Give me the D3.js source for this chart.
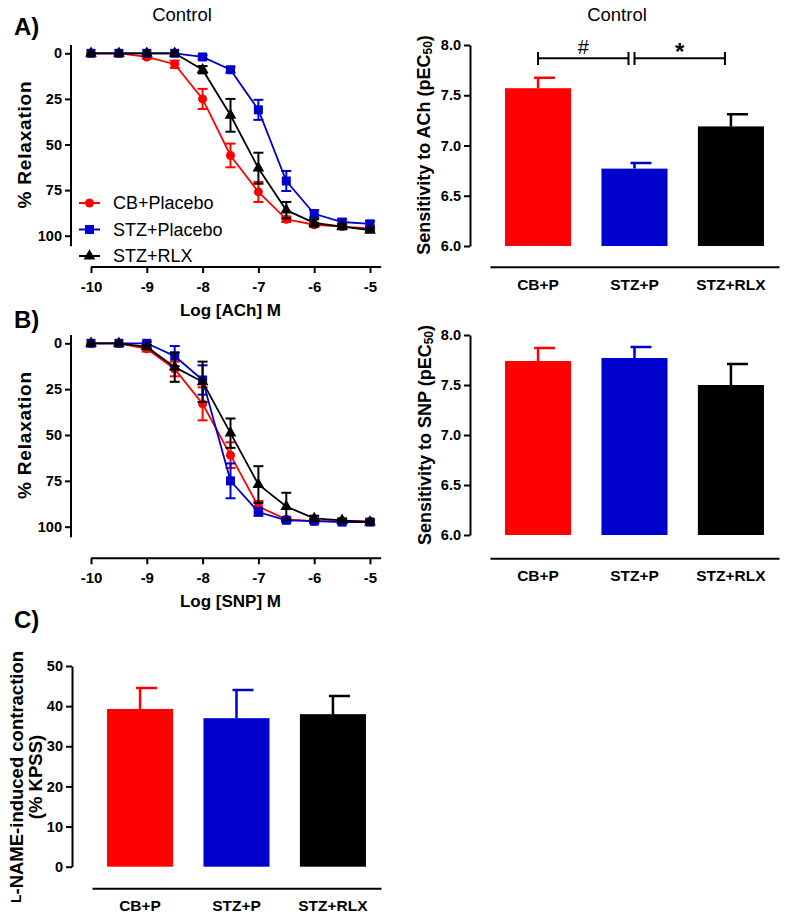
<!DOCTYPE html>
<html>
<head>
<meta charset="utf-8">
<script src="https://cdnjs.cloudflare.com/ajax/libs/d3/7.8.5/d3.min.js"></script>
<style>
  body { margin: 0; background: #fff; }
  svg { display: block; font-family: 'Liberation Sans', Arial, sans-serif; }
</style>
</head>
<body>
<div id="figure"></div>
<script>
// log molar concentrations
const doses = [-10, -9.5, -9, -8.5, -8, -7.5, -7, -6.5, -6, -5.5, -5]
const doseTicks = [-10, -9, -8, -7, -6, -5]
const relaxTicks = [0, 25, 50, 75, 100]

// A) ACh curves (% relaxation, mean and SEM)
const achCB = [0, 0, 2, 6, 25, 56, 76, 91, 94, 95, 96]
const achCBErr = [0, 0, 1, 2, 5.5, 6.5, 5.5, 1.5, 1, 1, 1]
const achSTZ = [0, 0, 0, 0, 2, 9, 31, 70, 88, 92.5, 93.5]
const achSTZErr = [0, 0, 0, 0, 1, 1.5, 5.5, 5.5, 2, 1.5, 1.5]
const achRLX = [0, 0, 0, 0, 9, 34, 63, 86, 93, 95, 97]
const achRLXErr = [0, 0, 0, 0, 2, 9, 8.5, 4.5, 2, 1.5, 1]

// B) SNP curves
const snpCB = [0, 0, 3, 14, 33, 61, 89, 96, 97, 97, 97]
const snpCBErr = [0, 0, 1.5, 4, 9, 7, 3, 1, 1, 1, 1]
const snpSTZ = [0, 0, 0, 7, 20, 75, 92, 96.5, 97, 97.5, 97.5]
const snpSTZErr = [0, 0, 1, 5.5, 8, 9.5, 2, 1, 1, 1, 1]
const snpRLX = [0, 0, 2, 13, 21, 49, 77, 89, 95.5, 96.5, 97.5]
const snpRLXErr = [0, 0, 1, 8, 11, 8, 10, 7.5, 1.5, 1, 1]

// bar charts
const groups = ['CB+P', 'STZ+P', 'STZ+RLX']
const achPec50 = [7.57, 6.77, 7.19]
const achPec50Sem = [0.105, 0.055, 0.12]
const snpPec50 = [7.74, 7.77, 7.5]
const snpPec50Sem = [0.13, 0.11, 0.21]
const pecTicks = [6, 6.5, 7, 7.5, 8]
const lnameContraction = [39.3, 37, 38]
const lnameSem = [5.2, 7, 4.5]
const lnameTicks = [0, 10, 20, 30, 40, 50]

const seriesNames = ['CB+Placebo', 'STZ+Placebo', 'STZ+RLX']
const colors = ['#ff0000', '#0000cc', '#000000']
const shapes = [d3.symbolCircle, d3.symbolSquare, d3.symbolTriangle]
const shapeSizes = [64, 81, 60]

const svg = d3
  .select('#figure')
  .append('svg')
  .attr('width', 787)
  .attr('height', 917)

const xScale = d3
  .scaleLinear()
  .domain([-10, -5])
  .range([91, 370])

function styleAxis(g, size) {
  g.attr('font-size', null).attr('font-family', null)
  g.selectAll('path, line')
    .attr('stroke', '#000')
    .attr('stroke-width', 2)
  g.selectAll('text')
    .attr('fill', '#000')
    .style('font-size', size + 'px')
    .style('font-weight', 'bold')
}

function marker(g, i, x, y) {
  g.append('path')
    .attr('d', d3.symbol().type(shapes[i]).size(shapeSizes[i]))
    .attr('transform', 'translate(' + x + ',' + y + ')')
    .attr('fill', colors[i])
}

function curvePanel(y0, y100, axisY, xTitle, series) {
  const yScale = d3
    .scaleLinear()
    .domain([0, 100])
    .range([y0, y100])

  // y-axis
  const yAxis = svg
    .append('g')
    .attr('transform', 'translate(71,0)')
    .call(
      d3
        .axisLeft(yScale)
        .tickValues(relaxTicks)
        .tickSize(6)
        .tickPadding(3)
    )
  yAxis.select('.domain').remove()
  yAxis
    .append('line')
    .attr('y1', yScale(-4.5))
    .attr('y2', yScale(105.8))
  styleAxis(yAxis, 14.5)

  // x-axis
  const xAxis = svg
    .append('g')
    .attr('transform', 'translate(0,' + axisY + ')')
    .call(
      d3
        .axisBottom(xScale)
        .tickValues(doseTicks)
        .tickFormat(d => String(d))
        .tickSize(6)
        .tickPadding(8)
    )
  xAxis.select('.domain').remove()
  xAxis
    .append('line')
    .attr('x1', xScale(-10))
    .attr('x2', xScale(-4.8))
  styleAxis(xAxis, 15)

  svg
    .append('text')
    .attr('x', (xScale(-10) + xScale(-5)) / 2)
    .attr('y', axisY + 49)
    .attr('text-anchor', 'middle')
    .style('font-size', '17px')
    .style('font-weight', 'bold')
    .text(xTitle)

  svg
    .append('text')
    .attr('transform', 'translate(24,' + (y0 + y100) / 2 + ') rotate(-90)')
    .attr('text-anchor', 'middle')
    .attr('dominant-baseline', 'central')
    .style('font-size', '19px')
    .style('font-weight', 'bold')
    .style('letter-spacing', '0.8px')
    .text('% Relaxation')

  const line = d3
    .line()
    .x(d => xScale(d.dose))
    .y(d => yScale(d.value))

  series.forEach(([values, errs], i) => {
    const points = doses.map((dose, k) => ({ dose, value: values[k], err: errs[k] }))
    const g = svg.append('g')

    g.append('path')
      .datum(points)
      .attr('d', line)
      .attr('fill', 'none')
      .attr('stroke', colors[i])
      .attr('stroke-width', 1.8)

    // error bars
    points
      .filter(p => p.err > 0)
      .forEach(p => {
        const x = xScale(p.dose)
        const top = yScale(p.value - p.err)
        const bottom = yScale(p.value + p.err)
        g.append('line')
          .attr('x1', x).attr('x2', x)
          .attr('y1', top).attr('y2', bottom)
        g.append('line')
          .attr('x1', x - 5).attr('x2', x + 5)
          .attr('y1', top).attr('y2', top)
        g.append('line')
          .attr('x1', x - 5).attr('x2', x + 5)
          .attr('y1', bottom).attr('y2', bottom)
      })
    g.selectAll('line')
      .attr('stroke', colors[i])
      .attr('stroke-width', 2)

    points.forEach(p => marker(g, i, xScale(p.dose), yScale(p.value)))
  })
}

function barPanel(range, yScale, ticks, format, baseY, values, sems) {
  const x = d3
    .scaleBand()
    .domain(groups)
    .range(range)
    .paddingInner(0.315)
    .paddingOuter(0.156)

  const [lo] = yScale.domain()

  const yAxis = svg
    .append('g')
    .attr('transform', 'translate(' + (range[0] - 20) + ',0)')
    .call(
      d3
        .axisLeft(yScale)
        .tickValues(ticks)
        .tickFormat(d3.format(format))
        .tickSize(6)
        .tickPadding(3)
        .tickSizeOuter(0)
    )
  styleAxis(yAxis, 14.5)

  const baseAxis = svg
    .append('g')
    .attr('transform', 'translate(0,' + baseY + ')')
    .call(
      d3
        .axisBottom(x)
        .tickSize(0)
        .tickSizeOuter(0)
        .tickPadding(12)
    )
  styleAxis(baseAxis, 15.5)

  groups.forEach((grp, i) => {
    const cx = x(grp) + x.bandwidth() / 2
    svg
      .append('rect')
      .attr('x', x(grp))
      .attr('width', x.bandwidth())
      .attr('y', yScale(values[i]))
      .attr('height', yScale(lo) - yScale(values[i]))
      .attr('fill', colors[i])

    const errTop = yScale(values[i] + sems[i])
    svg
      .append('path')
      .attr('d', 'M' + cx + ',' + yScale(values[i]) + 'V' + errTop + 'M' + (cx - 4) + ',' + errTop + 'H' + (cx + 17))
      .attr('fill', 'none')
      .attr('stroke', colors[i])
      .attr('stroke-width', 2.5)
  })
  return x
}

function rotatedLabel(x, y, parts, size) {
  const t = svg
    .append('text')
    .attr('transform', 'translate(' + x + ',' + y + ') rotate(-90)')
    .attr('text-anchor', 'middle')
    .attr('dominant-baseline', 'central')
    .style('font-size', size + 'px')
    .style('font-weight', 'bold')
  parts.forEach(([str, opts]) => {
    const s = t.append('tspan').text(str)
    if (opts && opts.size) s.style('font-size', opts.size + 'px')
    if (opts && opts.dy) s.attr('dy', opts.dy)
  })
}

// panel letters and titles
const letters = [['A)', 35], ['B)', 328], ['C)', 628]]
letters.forEach(([txt, y]) => {
  svg
    .append('text')
    .attr('x', 14)
    .attr('y', y)
    .style('font-size', '24px')
    .style('font-weight', 'bold')
    .text(txt)
})

;[182, 617].forEach(x => {
  svg
    .append('text')
    .attr('x', x)
    .attr('y', 21)
    .attr('text-anchor', 'middle')
    .style('font-size', '18.5px')
    .text('Control')
})

// A) curves
curvePanel(53.3, 235.7, 267, 'Log [ACh] M', [
  [achCB, achCBErr],
  [achSTZ, achSTZErr],
  [achRLX, achRLXErr]
])

// legend
const legend = svg.append('g')
seriesNames.forEach((name, i) => {
  const y = 203 + i * 26.5
  legend
    .append('line')
    .attr('x1', 79)
    .attr('x2', 100)
    .attr('y1', y)
    .attr('y2', y)
    .attr('stroke', colors[i])
    .attr('stroke-width', 2)
  marker(legend, i, 89.5, y)
  legend
    .append('text')
    .attr('x', 113)
    .attr('y', y)
    .attr('dominant-baseline', 'central')
    .style('font-size', '18px')
    .text(name)
})

// B) curves
curvePanel(343.3, 526.7, 558.3, 'Log [SNP] M', [
  [snpCB, snpCBErr],
  [snpSTZ, snpSTZErr],
  [snpRLX, snpRLXErr]
])

// A) pEC50 bars
const achY = d3.scaleLinear().domain([6, 8]).range([246, 45])
const achX = barPanel([490, 779], achY, pecTicks, '.1f', 266.7, achPec50, achPec50Sem)
rotatedLabel(424, 145, [['Sensitivity to ACh (pEC'], ['50', { size: 12, dy: 4 }], [')', { dy: -4 }]], 18)

// significance brackets
const centre = g => achX(g) + achX.bandwidth() / 2
const brackets = [['CB+P', 'STZ+P', '#'], ['STZ+P', 'STZ+RLX', '*']]
brackets.forEach(([a, b, sym]) => {
  const x1 = centre(a)
  const x2 = centre(b) - 6
  svg
    .append('path')
    .attr('d', 'M' + x1 + ',52V65M' + x1 + ',58.3H' + x2 + 'M' + x2 + ',52V65')
    .attr('fill', 'none')
    .attr('stroke', '#000')
    .attr('stroke-width', 2)
  svg
    .append('text')
    .attr('x', (x1 + x2) / 2)
    .attr('y', sym === '#' ? 54 : 60)
    .attr('text-anchor', 'middle')
    .style('font-size', sym === '#' ? '20px' : '24px')
    .style('font-weight', sym === '#' ? 'normal' : 'bold')
    .text(sym)
})

// B) pEC50 bars
const snpY = d3.scaleLinear().domain([6, 8]).range([535, 335])
barPanel([490, 779], snpY, pecTicks, '.1f', 558.3, snpPec50, snpPec50Sem)
rotatedLabel(425, 435, [['Sensitivity to SNP (pEC'], ['50', { size: 12, dy: 4 }], [')', { dy: -4 }]], 18)

// C) L-NAME contraction bars
const lnameY = d3.scaleLinear().domain([0, 50]).range([866.7, 666])
barPanel([92, 381], lnameY, lnameTicks, 'd', 888.3, lnameContraction, lnameSem)
rotatedLabel(16, 777, [['L', { size: 14 }], ['-NAME-induced contraction', { size: 18.5 }]], 18.5)
rotatedLabel(35, 777, [['(% KPSS)']], 18.5)
</script>
</body>
</html>
